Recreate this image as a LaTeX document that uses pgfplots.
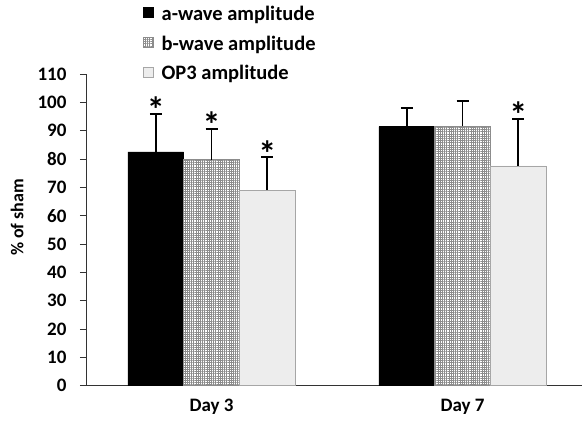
\documentclass[border=0pt]{standalone}
\usepackage{pgfplots}
\usepackage{pgfplotstable}
\pgfplotsset{compat=1.18}
\usepackage{fontspec}
\setmainfont{Carlito}
\usetikzlibrary{patterns,patterns.meta}
\pgfplotstableread{
x y e
0 82.5 13.4
1 91.4 6.5
}\awave
\pgfplotstableread{
x y e
0 79.8 10.9
1 91.6 8.9
}\bwave
\pgfplotstableread{
x y e
0 69.0 11.6
1 77.6 16.5
}\opthree
\pgfplotstableread{
x y
0 95.9
}\stara
\pgfplotstableread{
x y
0 90.7
}\starb
\pgfplotstableread{
x y
0 80.6
1 94.1
}\starc
\tikzset{finegrid/.style={fill=white,
  postaction={pattern={Lines[distance=2.2pt,angle=0,line width=0.5pt]}, pattern color=black!45},
  postaction={pattern={Lines[distance=2.2pt,angle=90,line width=0.5pt]}, pattern color=black!45}}}
\begin{document}
\begin{tikzpicture}[x=1pt,y=1pt]
\useasboundingbox (0,0) rectangle (582,422);
\begin{axis}[
  at={(86pt,36.3pt)}, anchor=south west,
  scale only axis, width=496pt, height=311.7pt,
  xmin=-0.5, xmax=1.476, ymin=0, ymax=110,
  axis x line*=bottom, axis y line*=left,
  axis line style={black!80, line width=0.9pt, -},
  clip=false,
  ytick={0,10,...,110},
  tick align=outside,
  major tick length=6pt,
  ytick style={black!80, line width=0.9pt},
  xtick={0,1}, xticklabels={Day 3, Day 7},
  xtick style={draw=none},
  minor xtick={-0.5,0.5},
  minor tick length=7pt,
  minor x tick style={black!80, line width=0.9pt},
  /pgf/number format/assume math mode=true,
  tick label style={font=\fontsize{19}{22}\selectfont\bfseries},
  yticklabel style={xshift=-10pt},
  xticklabel style={yshift=-4pt},
  ylabel={\% of sham},
  ylabel style={font=\fontsize{18}{20}\selectfont\bfseries, at={(axis description cs:-0.139,0.54)}, anchor=center},
  legend cell align=left,
  legend style={draw=none, fill=none, at={(axis description cs:0.115,1.226)}, anchor=north west,
    font=\fontsize{20.5}{23}\selectfont\bfseries, row sep=10pt, inner sep=0pt,
    /tikz/every odd column/.append style={column sep=6pt}},
  legend image code/.code={\draw[#1] (0pt,-4pt) rectangle (10pt,6pt);},
  error bars/y dir=plus, error bars/y explicit,
  error bars/error bar style={black, line width=1.8pt},
  error bars/error mark options={black, line width=1.8pt, mark size=6pt, rotate=90},
]
\addplot[ybar, bar width=0.222, bar shift=0, fill=black, draw=black]
  table[x expr=\thisrow{x}-0.222, y=y, y error=e] {\awave};
\addlegendentry{a-wave amplitude}
\addplot[ybar, bar width=0.222, bar shift=0, draw=black!45, finegrid]
  table[x=x, y=y, y error=e] {\bwave};
\addlegendentry{b-wave amplitude}
\addplot[ybar, bar width=0.222, bar shift=0, fill=black!7, draw=black!35]
  table[x expr=\thisrow{x}+0.222, y=y, y error=e] {\opthree};
\addlegendentry{OP3 amplitude}
% significance stars
\pgfplotsset{starnode/.style={only marks, mark=none, forget plot,
  nodes near coords={*}, every node near coord/.append style={font=\fontsize{36}{36}\selectfont\bfseries, anchor=south, inner sep=0pt, yshift=-9pt}}}
\addplot[starnode] table[x expr=\thisrow{x}-0.222, y=y] {\stara};
\addplot[starnode] table[x=x, y=y] {\starb};
\addplot[starnode] table[x expr=\thisrow{x}+0.222, y=y] {\starc};
\end{axis}
\end{tikzpicture}
\end{document}
